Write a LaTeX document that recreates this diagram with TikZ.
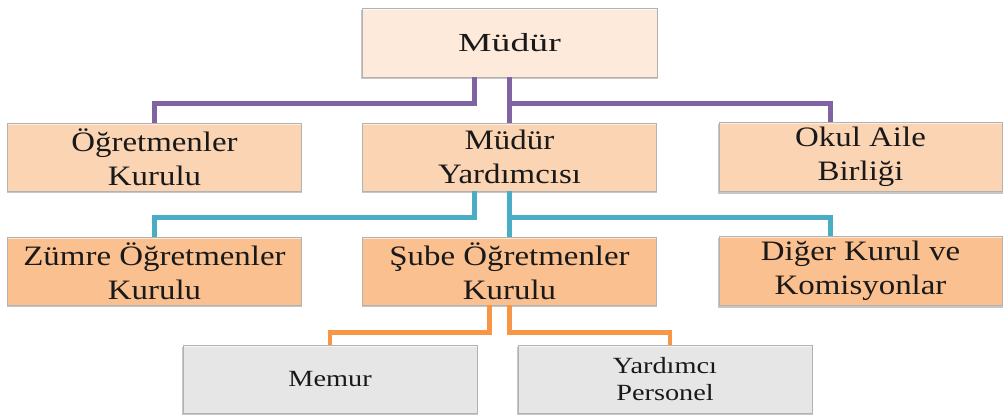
\documentclass[tikz,border=0pt]{standalone}
\usepackage{fontspec}
\setmainfont{Liberation Serif}
\newfontfamily\topfont{Liberation Serif}[FakeStretch=1.45]
\newfontfamily\midfont{Liberation Serif}[FakeStretch=1.17]
\newfontfamily\lowfont{Liberation Serif}[FakeStretch=1.22]
\usetikzlibrary{shadows}
\definecolor{topfill}{HTML}{FDEADA}
\definecolor{rowtwo}{HTML}{FBD4B4}
\definecolor{rowthree}{HTML}{FAC08F}
\definecolor{rowfour}{HTML}{E6E6E6}
\definecolor{linepurple}{HTML}{8064A2}
\definecolor{lineblue}{HTML}{4BACC6}
\definecolor{lineorange}{HTML}{F79646}
\tikzstyle{box}=[rectangle,draw=black!30,line width=0.6pt,align=center,text=black!90,
  drop shadow={shadow xshift=0pt,shadow yshift=-1.5pt,shadow scale=1.006,opacity=0.45},
  path picture={\draw[white,line width=2.5pt,opacity=0.6]
    (path picture bounding box.north west) -- (path picture bounding box.north east);}]
\tikzstyle{headbox}=[box,fill=topfill,minimum width=7.375cm,minimum height=1.725cm,
  font=\topfont\fontsize{18.5}{22}\selectfont]
\tikzstyle{midbox}=[box,minimum width=7.33cm,minimum height=1.7cm,
  font=\midfont\fontsize{20}{24.5}\selectfont]
\tikzstyle{lowbox}=[box,fill=rowfour,minimum width=7.35cm,minimum height=1.7cm,
  font=\lowfont\fontsize{16.5}{19}\selectfont]
\tikzstyle{link}=[line width=3pt]

\begin{document}
\begin{tikzpicture}[x=0.025cm, y=-0.025cm]

    \useasboundingbox (0,0) rectangle (1003,419);

    \node[headbox] (mudur) at (509.5,42.5) {Müdür};

    \foreach \x/\name/\txt in {154.5/ogretmen/{Öğretmenler\\Kurulu}, 509.5/yard/{Müdür\\Yardımcısı}}
        \node[midbox, fill=rowtwo] (\name) at (\x,157) {\txt};
    \node[midbox, fill=rowtwo, minimum width=7.075cm] (okul) at (860.5,157) {Okul Aile\\Birliği};

    \foreach \x/\name/\txt in {154.5/zumre/{Zümre Öğretmenler\\Kurulu}, 509.5/sube/{Şube Öğretmenler\\Kurulu}}
        \node[midbox, fill=rowthree] (\name) at (\x,271) {\txt};
    \node[midbox, fill=rowthree, minimum width=7.075cm] (diger) at (860.5,271) {Diğer Kurul ve\\Komisyonlar};

    \foreach \x/\name/\txt in {330/memur/{Memur}, 665/personel/{Yardımcı\\Personel}}
        \node[lowbox] (\name) at (\x,379) {\txt};

    % connectors
    \draw[link, linepurple] ([xshift=-0.875cm]mudur.south) -- ++(0,26) -| (ogretmen.north);
    \draw[link, linepurple] (mudur.south) -- (yard.north);
    \draw[link, linepurple] (mudur.south) ++(0,26) -| ([xshift=-0.75cm]okul.north);

    \draw[link, lineblue] ([xshift=-0.875cm]yard.south) -- ++(0,26) -| (zumre.north);
    \draw[link, lineblue] (yard.south) -- (sube.north);
    \draw[link, lineblue] (yard.south) ++(0,26) -| ([xshift=-0.75cm]diger.north);

    \draw[link, lineorange] ([xshift=-0.5cm]sube.south) -- ++(0,27) -| (memur.north);
    \draw[link, lineorange] (sube.south) -- ++(0,27) -| ([xshift=0.125cm]personel.north);

\end{tikzpicture}
\end{document}
